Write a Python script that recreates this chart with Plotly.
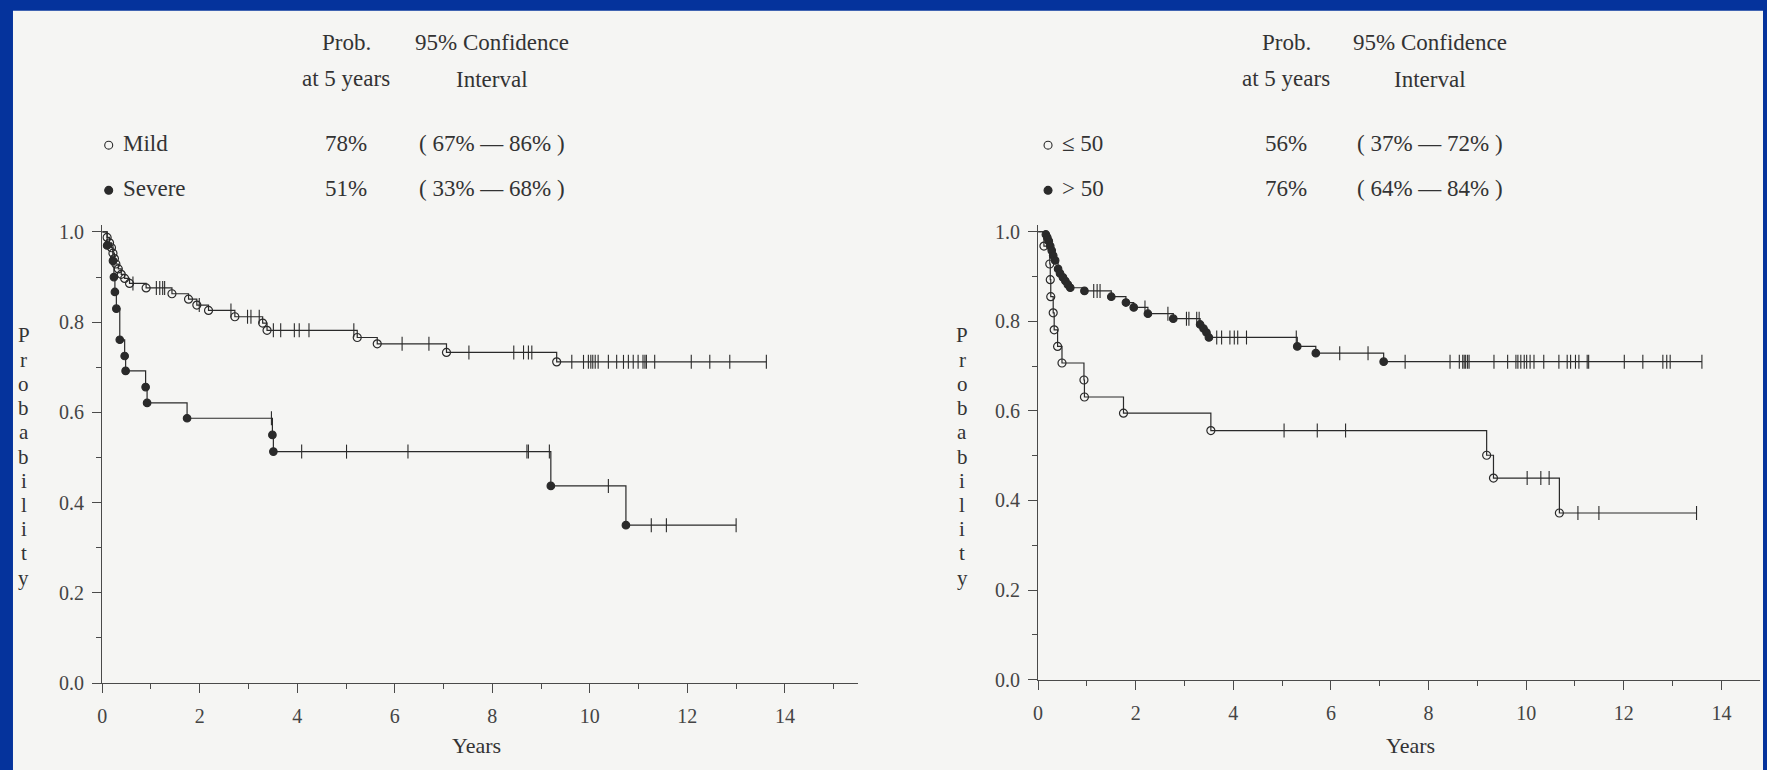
import plotly.graph_objects as go

W, H = 1767, 770

# ---------------- data (years, survival probability) ----------------
# Left panel: Mild vs Severe
mild_event_t = [0.10, 0.15, 0.19, 0.22, 0.25, 0.28, 0.33, 0.39, 0.46, 0.56, 0.90, 1.43,
                1.77, 1.94, 2.18, 2.72, 3.29, 3.38, 5.23, 5.64, 7.06, 9.32]
mild_event_s = [0.988, 0.976, 0.965, 0.953, 0.941, 0.929, 0.918, 0.906, 0.897, 0.886, 0.876,
                0.863, 0.851, 0.838, 0.826, 0.812, 0.798, 0.782, 0.766, 0.752, 0.733, 0.712]
mild_censor_t = [0.63, 1.11, 1.18, 1.24, 1.28, 1.99, 2.64, 2.98, 3.05, 3.22, 3.51, 3.66, 3.94,
                 4.04, 4.24, 5.16, 6.15, 6.70, 7.52, 8.44, 8.64, 8.74, 8.81, 9.63, 9.87, 9.97,
                 10.02, 10.06, 10.11, 10.17, 10.38, 10.55, 10.69, 10.79, 10.89, 10.99, 11.09,
                 11.13, 11.16, 11.33, 12.08, 12.46, 12.87, 13.62]

severe_event_t = [0.10, 0.22, 0.24, 0.26, 0.29, 0.36, 0.46, 0.48, 0.89, 0.92, 1.74, 3.49,
                  3.51, 9.20, 10.74]
severe_event_s = [0.970, 0.936, 0.900, 0.867, 0.830, 0.761, 0.725, 0.692, 0.656, 0.621,
                  0.587, 0.550, 0.513, 0.437, 0.350]
severe_censor_t = [3.47, 4.09, 5.01, 6.27, 8.71, 8.74, 9.17, 10.38, 11.26, 11.57, 13.00]

# Right panel: <= 50 vs > 50
le50_event_t = [0.12, 0.24, 0.25, 0.26, 0.31, 0.33, 0.40, 0.49, 0.94, 0.95, 1.75, 3.54,
                9.19, 9.33, 10.68]
le50_event_s = [0.968, 0.928, 0.893, 0.855, 0.819, 0.781, 0.744, 0.707, 0.669, 0.631,
                0.595, 0.556, 0.501, 0.450, 0.372]
le50_censor_t = [5.04, 5.72, 6.30, 10.02, 10.30, 10.47, 11.06, 11.49, 13.49]

gt50_event_t = [0.16, 0.19, 0.22, 0.25, 0.28, 0.31, 0.35, 0.41, 0.45, 0.51, 0.56, 0.61,
                0.66, 0.95, 1.50, 1.80, 1.96, 2.25, 2.77, 3.32, 3.39, 3.45, 3.50, 5.31,
                5.69, 7.08]
gt50_event_s = [0.994, 0.987, 0.979, 0.968, 0.958, 0.947, 0.936, 0.917, 0.907, 0.898,
                0.890, 0.882, 0.875, 0.868, 0.855, 0.842, 0.831, 0.817, 0.806, 0.793,
                0.784, 0.775, 0.764, 0.744, 0.729, 0.710]
gt50_censor_t = [1.14, 1.21, 1.27, 2.19, 2.66, 3.04, 3.09, 3.25, 3.30, 3.66, 3.76, 3.93,
                 4.02, 4.09, 4.27, 5.29, 6.18, 6.76, 7.52, 8.44, 8.63, 8.70, 8.73, 8.76,
                 8.80, 8.83, 9.34, 9.62, 9.79, 9.83, 9.89, 9.96, 10.01, 10.08, 10.16,
                 10.36, 10.67, 10.84, 10.91, 11.01, 11.08, 11.25, 11.28, 12.01, 12.39,
                 12.80, 12.88, 12.95, 13.60]

# header table text
left_labels = ["Mild", "Severe"]
left_prob5 = ["78%", "51%"]
left_ci = ["( 67% \u2014 86% )", "( 33% \u2014 68% )"]
right_labels = ["\u2264 50", "> 50"]
right_prob5 = ["56%", "76%"]
right_ci = ["( 37% \u2014 72% )", "( 64% \u2014 84% )"]

x_ticks = [0, 2, 4, 6, 8, 10, 12, 14]
y_ticks = [0.0, 0.2, 0.4, 0.6, 0.8, 1.0]

# ---------------- styling ----------------
INK = "#2a2a2a"
AX = "#4a4a4a"
PAPER = "#f5f5f3"
BLUE = "#05339c"
FONT = "Liberation Serif, DejaVu Serif, serif"


def surv_at(t, ev_t, ev_s):
    s = 1.0
    for et, es in zip(ev_t, ev_s):
        if et <= t:
            s = es
    return s


def add_curve(fig, ev_t, ev_s, cen_t, filled, xa, ya):
    end = max(cen_t + ev_t)
    fig.add_trace(go.Scatter(
        x=[0] + ev_t + [end], y=[1.0] + ev_s + [ev_s[-1]],
        mode="lines", line=dict(shape="hv", color=INK, width=1.2),
        xaxis=xa, yaxis=ya, showlegend=False, hoverinfo="skip"))
    fig.add_trace(go.Scatter(
        x=ev_t, y=ev_s, mode="markers",
        marker=dict(symbol="circle" if filled else "circle-open",
                    size=7.5 if filled else 8, color=INK,
                    line=dict(color=INK, width=1.2)),
        xaxis=xa, yaxis=ya, showlegend=False))
    fig.add_trace(go.Scatter(
        x=cen_t, y=[surv_at(t, ev_t, ev_s) for t in cen_t], mode="markers",
        marker=dict(symbol="line-ns", size=10, color=INK,
                    line=dict(color=INK, width=1.1)),
        xaxis=xa, yaxis=ya, showlegend=False))


fig = go.Figure()
add_curve(fig, mild_event_t, mild_event_s, mild_censor_t, False, "x", "y")
add_curve(fig, severe_event_t, severe_event_s, severe_censor_t, True, "x", "y")
add_curve(fig, le50_event_t, le50_event_s, le50_censor_t, False, "x2", "y2")
add_curve(fig, gt50_event_t, gt50_event_s, gt50_censor_t, True, "x2", "y2")

axis_common = dict(showgrid=False, zeroline=False, showline=True, linecolor=AX,
                   linewidth=1.2, ticks="outside", tickcolor=AX, tickwidth=1.2,
                   ticklen=9, tickfont=dict(family=FONT, size=20, color="#444"))

xcommon = dict(axis_common, tickvals=x_ticks, ticktext=[str(v) for v in x_ticks],
               ticklabelstandoff=6,
               minor=dict(dtick=1, ticklen=5, tickcolor=AX, tickwidth=1.1, ticks="outside"))
ycommon = dict(axis_common, tickvals=y_ticks, ticktext=["%.1f" % v for v in y_ticks],
               ticklabelstandoff=4,
               minor=dict(dtick=0.1, ticklen=5, tickcolor=AX, tickwidth=1.1, ticks="outside"))

shapes = [dict(type="rect", xref="paper", yref="paper", x0=8 / W, x1=1763 / W,
               y0=-0.02, y1=1 - 7 / H, fillcolor=PAPER, line=dict(width=0), layer="below")]


def dot(px, py, filled):
    r = 4
    shapes.append(dict(type="circle", xref="paper", yref="paper",
                       x0=(px - r) / W, x1=(px + r) / W,
                       y0=1 - (py + r) / H, y1=1 - (py - r) / H,
                       fillcolor=INK if filled else "rgba(0,0,0,0)",
                       line=dict(color=INK, width=1.1)))


def txt(s, px, py, size=23, xanchor="center"):
    fig.add_annotation(text=s, x=px / W, y=1 - py / H, xref="paper", yref="paper",
                       showarrow=False, xanchor=xanchor, yanchor="middle",
                       font=dict(family=FONT, size=size, color="#333"))


# headers
for cx_prob, cx_ci, x_dot, labels, probs, cis in [
        (342, 488, 104, left_labels, left_prob5, left_ci),
        (1285, 1429, 1046, right_labels, right_prob5, right_ci)]:
    txt("Prob.", cx_prob, 39)
    txt("at 5 years", cx_prob, 76)
    txt("95% Confidence", cx_ci, 39)
    txt("Interval", cx_ci, 77)
    for i, py in enumerate([142, 188]):
        dot(x_dot, py + 2, filled=(i == 1))
        txt(labels[i], x_dot + 12, py, xanchor="left")
        txt(probs[i], cx_prob, py)
        txt(cis[i], cx_ci, py)

# axis titles: stacked upright letters
for cx in (19, 960):
    for k, ch in enumerate("Probability"):
        txt(ch, cx, 338 + k * 24.7, size=21)
txt("Years", 473, 756, size=22)
txt("Years", 1409, 756, size=22)

fig.update_layout(
    width=W, height=H, margin=dict(l=0, r=0, t=0, b=0),
    paper_bgcolor=BLUE, plot_bgcolor="rgba(0,0,0,0)",
    xaxis=dict(xcommon, range=[0, 15.5], domain=[97.5 / W, (97.5 + 15.5 * 48.9) / W], anchor="y"),
    yaxis=dict(ycommon, range=[0, 1.016], domain=[1 - 692.5 / H, 1 - (692.5 - 1.016 * 460) / H], anchor="x"),
    xaxis2=dict(xcommon, range=[0, 14.8], domain=[1036 / W, (1036 + 14.8 * 48.95) / W], anchor="y2"),
    yaxis2=dict(ycommon, range=[0, 1.016], domain=[1 - 689 / H, 1 - (689 - 1.016 * 456.7) / H], anchor="x2"),
    shapes=shapes,
)

fig.write_html(
    "out.html",
    config={"displayModeBar": False},
    post_script="document.body.style.margin='0';document.body.style.background='%s';"
                "document.body.style.overflow='hidden';" % BLUE,
)
